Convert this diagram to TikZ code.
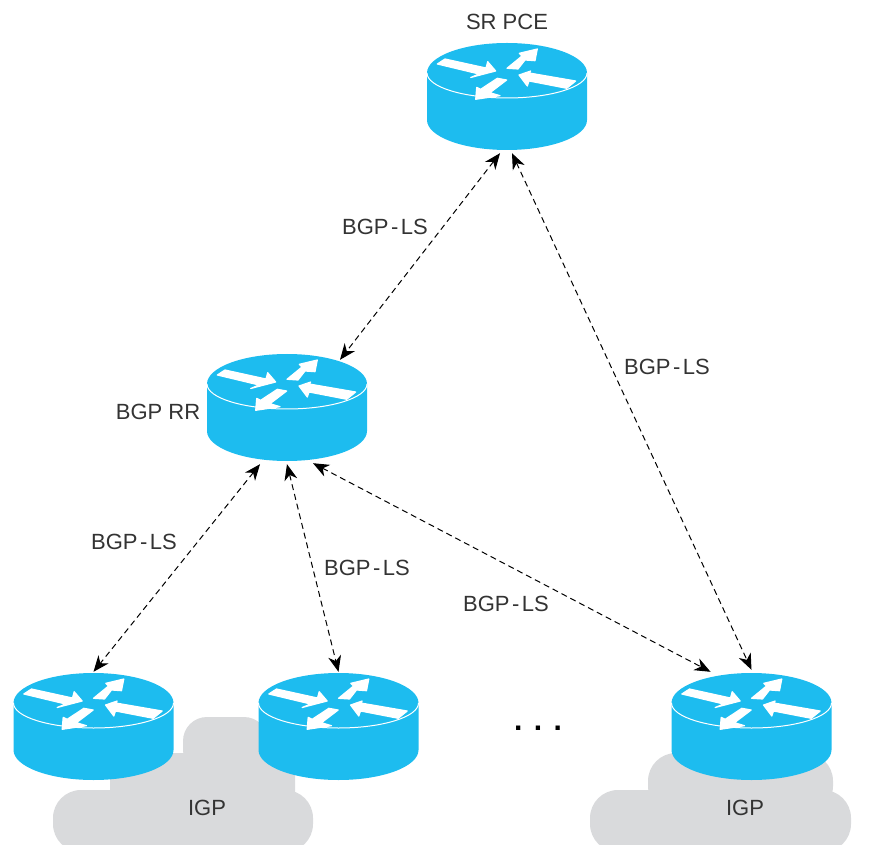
\documentclass[tikz,border=0pt]{standalone}
\usepackage{fontspec}
\setmainfont{Liberation Sans}
\usetikzlibrary{arrows.meta}

\definecolor{routerblue}{HTML}{1DBCEF}
\definecolor{cloudgrey}{HTML}{D9DADC}
\definecolor{labelgrey}{HTML}{333333}

\tikzset{
  lbl/.style={font=\fontsize{22}{24}\selectfont, text=labelgrey, inner sep=0pt},
  routerbox/.style={minimum width=160pt, minimum height=107pt, inner sep=0pt},
  bgpls/.style={draw=black, line width=1pt, dash pattern=on 6pt off 4pt,
    {Stealth[length=16pt,width=13pt,inset=5pt]}-{Stealth[length=16pt,width=13pt,inset=5pt]}},
  wedge/.style={fill=white, draw=white, line width=1.2pt, line join=round},
}

\newcommand{\lsname}{BGP\kern2.5pt-\kern2.5pt LS}

% #1 name, #2 x, #3 y of the rim ends
\newcommand{\router}[3]{
\begin{scope}[shift={(#2,#3)}]
\fill[routerblue] (-80,0) arc[start angle=180, end angle=0, x radius=80, y radius=30]
  -- (80,-47) arc[start angle=0, end angle=-180, x radius=80, y radius=30] -- cycle;
\draw[white, line width=1pt] (-80,0) arc[start angle=180, end angle=360, x radius=80, y radius=25];
\filldraw[wedge] (-69.7,9) -- (-62,14) -- (-21,5) -- (-19.3,11.3) -- (-11.3,2) -- (-36.3,-4.5) -- (-28,-1) -- cycle;
\filldraw[wedge] (30.3,24) -- (12.3,19.7) -- (15,17) -- (0,4.7) -- (11,4) -- (18,13) -- (28,12.3) -- cycle;
\filldraw[wedge] (12,-2) -- (23.7,2) -- (22.3,0) -- (68.7,-8) -- (59.7,-15.3) -- (22,-8) -- (20.3,-13) -- cycle;
\filldraw[wedge] (-31.3,-26.3) -- (-30.3,-14.3) -- (-26.3,-16.3) -- (-9.7,-5.3) -- (-0.3,-7) -- (-17,-19.7) -- (-7,-22.7) -- cycle;
\node[routerbox] (#1) at (0,-23.5) {};
\end{scope}
}

\begin{document}
\begin{tikzpicture}[x=1pt,y=1pt]
\useasboundingbox (0,0) rectangle (877,844);
\clip (0,0) rectangle (877,844);

% clouds
\fill[cloudgrey, rounded corners=28pt] (53,-8) rectangle (313,54);
\fill[cloudgrey, rounded corners=14pt] (110,30) rectangle (295,91);
\fill[cloudgrey, rounded corners=24pt] (183,70) rectangle (268,127);
\fill[cloudgrey, rounded corners=28pt] (590,-8) rectangle (851,54);
\fill[cloudgrey, rounded corners=28pt] (648,30) rectangle (833,91);

% routers
\router{pce}{507}{771}
\router{rr}{287}{460}
\router{edgea}{93.5}{141}
\router{edgeb}{338.5}{141}
\router{edgec}{751.5}{141}

% sessions
\draw[bgpls] ([xshift=-7pt,yshift=-3pt]pce.south) -- ([xshift=53pt,yshift=-6pt]rr.north);
\draw[bgpls] ([xshift=5pt,yshift=-3pt]pce.south) -- ([yshift=3pt]edgec.north);
\draw[bgpls] ([xshift=-27pt,yshift=-3pt]rr.south) -- ([yshift=1pt]edgea.north);
\draw[bgpls] ([yshift=-3pt]rr.south) -- ([yshift=1pt]edgeb.north);
\draw[bgpls] ([xshift=26pt,yshift=-2pt]rr.south) -- ([xshift=-41pt,yshift=1pt]edgec.north);

% labels
\node[lbl] (lpce) at (507,822) {SR PCE};
\node[lbl] (lrr) at (158,432) {BGP RR};
\node[lbl] (la) at (385,617) {\lsname};
\node[lbl] (lb) at (667,477) {\lsname};
\node[lbl] (lc) at (134,302) {\lsname};
\node[lbl] (ld) at (367,276) {\lsname};
\node[lbl] (le) at (506,240) {\lsname};
\node[lbl] (igpa) at (207,36) {IGP};
\node[lbl] (igpb) at (745,36) {IGP};
\node[lbl, font=\fontsize{30}{32}\selectfont\bfseries, text=black] (dots) at (538,116) {.\hspace{11.5pt}.\hspace{11.5pt}.};
\end{tikzpicture}
\end{document}
